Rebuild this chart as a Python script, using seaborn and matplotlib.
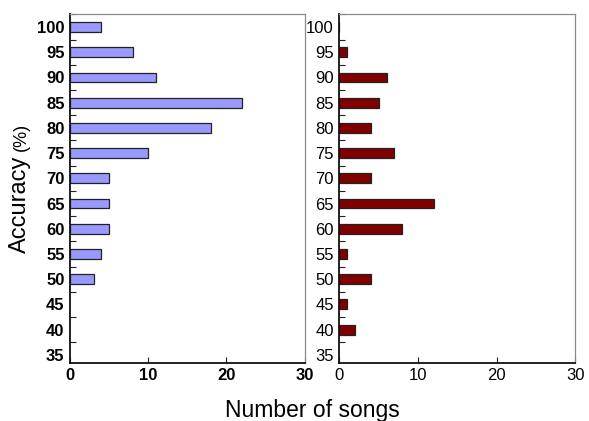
import matplotlib

matplotlib.use("Agg")
import matplotlib.pyplot as plt
import pandas as pd
import seaborn as sns
from matplotlib.ticker import FixedLocator

# accuracy bins (%) and number of songs per bin, one list per panel
left_acc = [100, 95, 90, 85, 80, 75, 70, 65, 60, 55, 50]
left_counts = [4, 8, 11, 22, 18, 10, 5, 5, 5, 4, 3]
right_acc = [100, 95, 90, 85, 80, 75, 70, 65, 60, 55, 50, 45, 40]
right_counts = [0, 1, 6, 5, 4, 7, 4, 12, 8, 1, 4, 1, 2]

y_ticks = [35, 40, 45, 50, 55, 60, 65, 70, 75, 80, 85, 90, 95, 100]
x_ticks = [0, 10, 20, 30]
left_color = "#9999ff"
right_color = "#800000"

sns.set_style("white")
plt.rcParams["font.family"] = ["Liberation Sans", "DejaVu Sans"]
plt.rcParams["text.color"] = "black"
plt.rcParams["xtick.color"] = "black"
plt.rcParams["ytick.color"] = "black"

fig = plt.figure(figsize=(5.89, 4.21), dpi=100)
ax_l = fig.add_axes([0.119, 0.138, 0.398, 0.829])
ax_r = fig.add_axes([0.576, 0.138, 0.401, 0.829])


def draw_panel(ax, acc, counts, color, weight):
    df = pd.DataFrame({"accuracy": acc, "songs": counts})
    sns.barplot(data=df, x="songs", y="accuracy", orient="y", native_scale=True,
                width=0.39, color=color, saturation=1, edgecolor="#222222",
                linewidth=0.9, ax=ax)
    ax.set_xlim(0, 30)
    ax.set_ylim(33.4, 102.6)
    ax.set_xticks(x_ticks)
    ax.set_yticks(y_ticks)
    ax.yaxis.set_minor_locator(FixedLocator([t + 2.5 for t in y_ticks]))
    ax.set_xticklabels([str(t) for t in x_ticks], fontsize=12, fontweight=weight)
    ax.set_yticklabels([str(t) for t in y_ticks], fontsize=12, fontweight=weight)
    ax.tick_params(axis="y", which="major", length=0, pad=4)
    ax.tick_params(axis="y", which="minor", direction="in", length=4,
                   width=0.8, color="#222222", left=True)
    ax.tick_params(axis="x", which="major", direction="in", length=4,
                   width=0.8, color="#222222", bottom=True, pad=4)
    ax.set_xlabel("")
    ax.set_ylabel("")
    for side in ("left", "bottom"):
        ax.spines[side].set_color("#111111")
        ax.spines[side].set_linewidth(1.3)
    for side in ("top", "right"):
        ax.spines[side].set_color("#8a8a8a")
        ax.spines[side].set_linewidth(0.9)


draw_panel(ax_l, left_acc, left_counts, left_color, "bold")
draw_panel(ax_r, right_acc, right_counts, right_color, "normal")

# y label: large "Accuracy" with a smaller "(%)" sharing its baseline
fig.text(0.0445, 0.515, "Accuracy", rotation=90, fontsize=17,
         rotation_mode="anchor", ha="center", va="baseline")
fig.text(0.0445, 0.675, "(%)", rotation=90, fontsize=13,
         rotation_mode="anchor", ha="center", va="baseline")
fig.text(0.53, 0.025, "Number of songs", fontsize=16.5, ha="center", va="center")

fig.savefig("out.png", dpi=100)
plt.close(fig)
